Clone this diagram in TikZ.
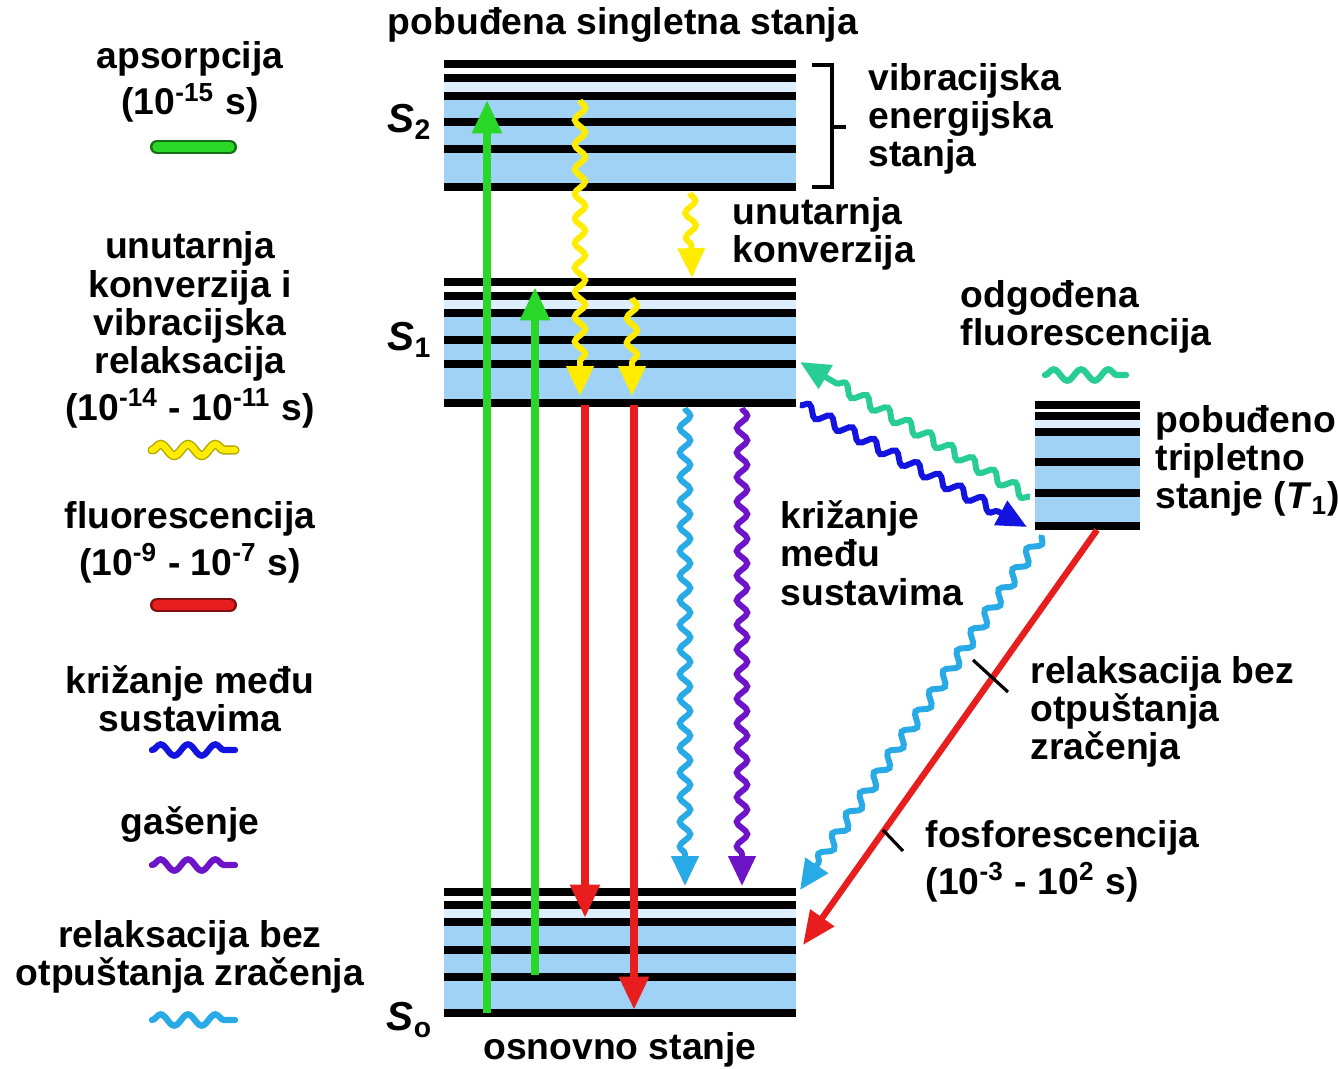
\documentclass[tikz,border=0pt]{standalone}
\usepackage{fontspec}
\setmainfont{Liberation Sans}
\usetikzlibrary{arrows.meta,decorations.pathmorphing,positioning}
\definecolor{band}{RGB}{160,210,245}
\definecolor{paleband}{RGB}{222,238,252}
\definecolor{absgreen}{RGB}{40,215,40}
\definecolor{icyellow}{RGB}{255,236,0}
\definecolor{flred}{RGB}{232,30,30}
\definecolor{vrcyan}{RGB}{40,170,230}
\definecolor{iscblue}{RGB}{20,20,225}
\definecolor{qpurple}{RGB}{110,20,200}
\definecolor{dfteal}{RGB}{40,205,150}

\begin{document}
\begin{tikzpicture}[x=0.01cm, y=-0.01cm, font=\bfseries\fontsize{10.6}{10.9}\selectfont]
    \tikzstyle{txt}=[inner sep=0pt, align=center]
    \tikzstyle{txtl}=[inner sep=0pt, align=left, anchor=west]
    \tikzstyle{lvl}=[line width=2pt]
    \tikzstyle{slab}=[inner sep=0pt, font=\bfseries\fontsize{11.5}{12}\selectfont]
    \tikzstyle{straight}=[line width=2.3pt, -{Triangle[width=8pt,length=9.5pt]}]
    \tikzstyle{wavy}=[line width=1.7pt, decorate,
      decoration={snake, amplitude=1.5pt, segment length=7pt, post length=8.5pt},
      -{Triangle[width=7.5pt,length=8.5pt]}]
    \tikzstyle{legbar}=[line width=4pt, line cap=round]
    \tikzstyle{legwave}=[line width=1.8pt, line cap=round, decorate,
      decoration={snake, amplitude=1.6pt, segment length=7.8pt}]

    \useasboundingbox (0,0) rectangle (1338,1069);

    % energy levels
    \fill[paleband] (444,78) rectangle (796,96);
    \fill[band] (444,96) rectangle (796,187);
    \foreach \y in {64,78,96,122,149,187} \draw[lvl] (444,\y) -- (796,\y);
    \fill[paleband] (444,296) rectangle (796,313);
    \fill[band] (444,313) rectangle (796,403);
    \foreach \y in {282,296,313,340,364,403} \draw[lvl] (444,\y) -- (796,\y);
    \fill[paleband] (444,905) rectangle (796,922);
    \fill[band] (444,922) rectangle (796,1013);
    \foreach \y in {892,905,922,950,977,1013} \draw[lvl] (444,\y) -- (796,\y);
    \fill[paleband] (1035,416) rectangle (1140,432);
    \fill[band] (1035,432) rectangle (1140,526);
    \foreach \y in {405,416,432,462,493,526} \draw[lvl] (1035,\y) -- (1140,\y);

    \draw[line width=1.1pt] (812,65) -- (832,65) -- (832,187) -- (812,187);
    \draw[line width=1.1pt] (832,127) -- (846,127);

    \node[slab] (S2) at (410,122) {\textit{S}\textsubscript{2}};
    \node[slab] (S1) at (410,340) {\textit{S}\textsubscript{1}};
    \node[slab] (S0) at (410,1020) {\textit{S}\textsubscript{o}};

    % titles and labels
    \node[txt] (top) at (623,25) {pobuđena singletna stanja};
    \node[txt] (ground) at (620,1050) {osnovno stanje};
    \node[txtl] (vib) at (868,119) {vibracijska\\energijska\\stanja};
    \node[txtl] (ic) at (732,234) {unutarnja\\konverzija};
    \node[txtl] (df) at (960,317) {odgođena\\fluorescencija};
    \node[txtl] (trip) at (1155,461) {pobuđeno\\tripletno\\stanje (\textit{T}\textsubscript{1})};
    \node[txtl] (isc) at (780,553) {križanje\\među\\sustavima};
    \node[txtl] (nr) at (1030,712) {relaksacija bez\\otpuštanja\\zračenja};
    \node[txtl] (ph) at (925,861) {fosforescencija\\[1pt](10\textsuperscript{-3} - 10\textsuperscript{2} s)};

    % legend
    \node[txt] (Labs) at (190,82) {apsorpcija\\[1pt](10\textsuperscript{-15} s)};
    \node[txt] (Lic) at (190,330) {unutarnja\\konverzija i\\vibracijska\\relaksacija\\[1pt](10\textsuperscript{-14} - 10\textsuperscript{-11} s)};
    \node[txt] (Lfl) at (190,542) {fluorescencija\\[1pt](10\textsuperscript{-9} - 10\textsuperscript{-7} s)};
    \node[txt] (Lisc) at (190,699) {križanje među\\sustavima};
    \node[txt] (Lq) at (190,825) {gašenje};
    \node[txt] (Lnr) at (190,957) {relaksacija bez\\otpuštanja zračenja};

    \draw[legbar, draw=absgreen!50!black] (157,147) -- (230,147);
    \draw[legbar, line width=2.7pt, draw=absgreen] (157,147) -- (230,147);
    \draw[legwave, draw=icyellow!70!black, line width=2.6pt] (152,450) -- (235,450);
    \draw[legwave, draw=icyellow] (152,450) -- (235,450);
    \draw[legbar, draw=flred!55!black] (157,605) -- (230,605);
    \draw[legbar, line width=2.7pt, draw=flred] (157,605) -- (230,605);
    \draw[legwave, draw=iscblue] (152,750) -- (235,750);
    \draw[legwave, draw=qpurple] (152,865) -- (235,865);
    \draw[legwave, draw=vrcyan] (152,1020) -- (235,1020);
    \draw[legwave, draw=dfteal] (1045,375) -- (1126,375);

    % transitions
    \coordinate (a1s) at (487,1013); \coordinate (a1e) at (487,100);
    \coordinate (a2s) at (535,975);  \coordinate (a2e) at (535,287);
    \coordinate (y1s) at (580,100);  \coordinate (y1e) at (580,396);
    \coordinate (y2s) at (632,298);  \coordinate (y2e) at (632,396);
    \coordinate (y3s) at (690,193);  \coordinate (y3e) at (692,278);
    \coordinate (f1s) at (585,405);  \coordinate (f1e) at (585,918);
    \coordinate (f2s) at (634,405);  \coordinate (f2e) at (634,1010);
    \coordinate (c1s) at (685,408);  \coordinate (c1e) at (685,886);
    \coordinate (q1s) at (742,408);  \coordinate (q1e) at (742,886);
    \coordinate (dfs) at (1030,497); \coordinate (dfe) at (800,362);
    \coordinate (iss) at (800,405);  \coordinate (ise) at (1027,527);
    \coordinate (c2s) at (1042,535); \coordinate (c2e) at (800,890);
    \coordinate (phs) at (1097,530); \coordinate (phe) at (803,945);

    \draw[straight, absgreen] (a1s) -- (a1e);
    \draw[straight, absgreen] (a2s) -- (a2e);
    \draw[wavy, icyellow] (y1s) -- (y1e);
    \draw[wavy, icyellow] (y2s) -- (y2e);
    \draw[wavy, icyellow] (y3s) -- (y3e);
    \draw[straight, flred] (f1s) -- (f1e);
    \draw[straight, flred] (f2s) -- (f2e);
    \draw[wavy, vrcyan] (c1s) -- (c1e);
    \draw[wavy, qpurple] (q1s) -- (q1e);
    \draw[wavy, dfteal] (dfs) -- (dfe);
    \draw[wavy, iscblue] (iss) -- (ise);
    \draw[wavy, vrcyan] (c2s) -- (c2e);
    \draw[straight, line width=1.8pt, flred] (phs) -- (phe);

    \coordinate (t1a) at (973,660); \coordinate (t1b) at (1008,692);
    \coordinate (t2a) at (883,830); \coordinate (t2b) at (903,851);
    \draw[line width=0.9pt] (t1a) -- (t1b);
    \draw[line width=0.9pt] (t2a) -- (t2b);
\end{tikzpicture}
\end{document}
